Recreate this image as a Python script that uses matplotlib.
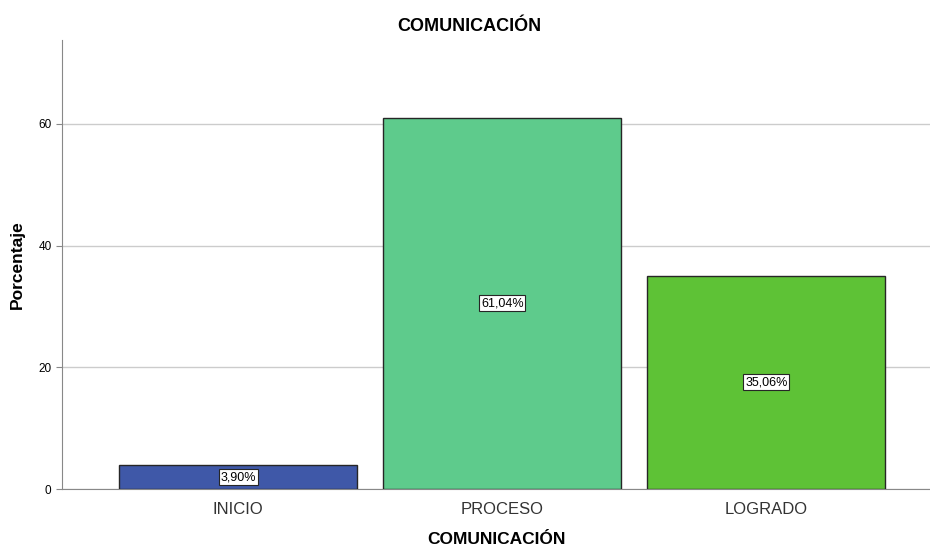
import matplotlib.pyplot as plt

plt.rcParams['font.family'] = ['Liberation Sans', 'DejaVu Sans']

categorias = ['INICIO', 'PROCESO', 'LOGRADO']
porcentajes = [3.90, 61.04, 35.06]
colores = ['#3f58a8', '#5ecb8c', '#5ec236']
y_ticks = [0, 20, 40, 60]

fig = plt.figure(figsize=(9.3, 5.51), dpi=100)
ax = fig.add_axes([0.0667, 0.1125, 0.9333, 0.815])

x = range(len(categorias))
ax.bar(x, porcentajes, width=0.9, color=colores, edgecolor='#262626', linewidth=1, zorder=3)

# etiquetas en el centro de cada barra
for i, v in zip(x, porcentajes):
    ax.text(i, v / 2, f"{v:.2f}%".replace('.', ','), ha='center', va='center', fontsize=9,
            zorder=4, bbox=dict(boxstyle='square,pad=0.15', facecolor='white',
                                edgecolor='#262626', linewidth=0.8))

ax.set_xlim(-0.667, 2.62)
ax.set_ylim(0, 73.8)
ax.set_yticks(y_ticks)
ax.set_xticks(list(x))
ax.set_xticklabels(categorias, fontsize=12, color='#333333')
ax.tick_params(axis='y', labelsize=8.5, length=4, color='#888888')
ax.tick_params(axis='x', length=0, pad=9)
ax.grid(axis='y', color='#cccccc', linewidth=1, zorder=0)

for s in ['top', 'right']:
    ax.spines[s].set_visible(False)
ax.spines['left'].set_color('#888888')
ax.spines['bottom'].set_color('#888888')

fig.text(0.505, 0.951, 'COMUNICACIÓN', fontsize=13, fontweight='bold', ha='center', va='center')
ax.set_xlabel('COMUNICACIÓN', fontsize=12.5, fontweight='bold', labelpad=11)
ax.set_ylabel('Porcentaje', fontsize=12.5, fontweight='bold', labelpad=10)

plt.savefig('out.png', dpi=100)
